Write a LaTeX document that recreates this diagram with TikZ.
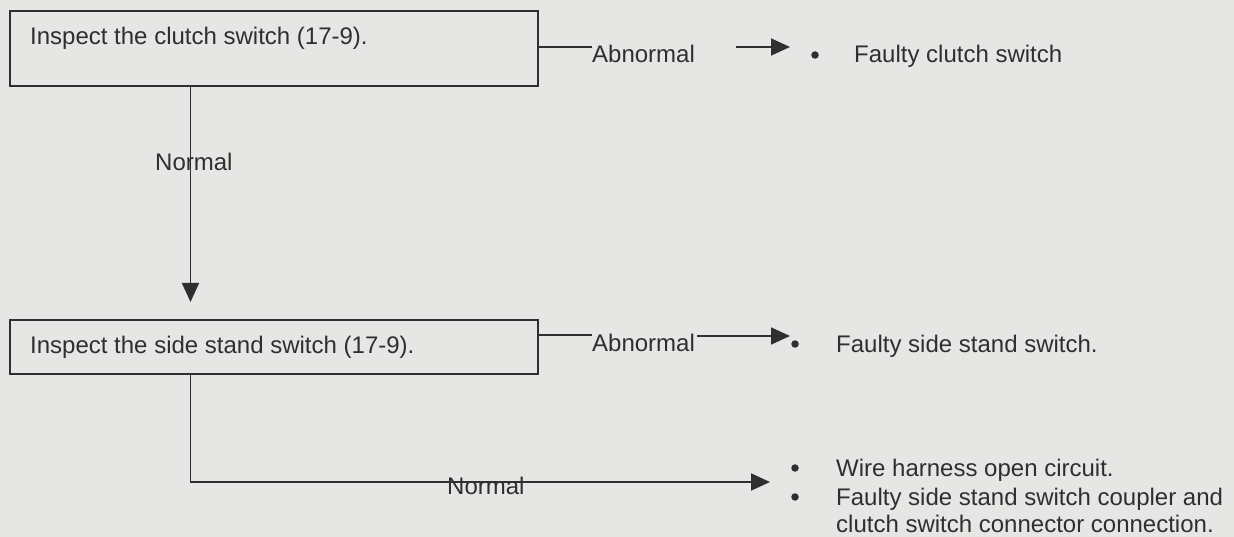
\documentclass[tikz,border=0pt]{standalone}
\usepackage{fontspec}
\setmainfont{Liberation Sans}
\usetikzlibrary{arrows.meta}
\definecolor{bg}{HTML}{E6E6E4}
\definecolor{ink}{HTML}{2F2F2F}
\begin{document}
\begin{tikzpicture}[x=1pt,y=-1pt,
  box/.style={draw=ink, line width=2pt, inner sep=0pt, rectangle},
  txt/.style={anchor=base west, inner sep=0pt, text=ink, font=\fontsize{24}{29}\selectfont},
  conn/.style={draw=ink, line width=1.8pt},
  arr/.style={conn, -{Triangle[length=19pt,width=17pt]}},
  bul/.style={circle, fill=ink, inner sep=0pt, minimum size=7.5pt}]
\fill[bg] (0,0) rectangle (1234,537);
\useasboundingbox (0,0) rectangle (1234,537);

% boxes
\node[box, minimum width=528pt, minimum height=75.5pt] (b1) at (273.5,48.75) {};
\node[box, minimum width=528pt, minimum height=54pt] (b2) at (273.5,347) {};
\node[txt] (t1) at (30,44.5) {Inspect the clutch switch (17-9).};
\node[txt] (t2) at (30,353) {Inspect the side stand switch (17-9).};

% labels
\node[txt] (ab1) at (592,63) {Abnormal};
\node[txt] (ab2) at (592,351) {Abnormal};
\node[txt] (n1) at (155,171) {Normal};
\node[txt] (n2) at (447,494.3) {Normal};

% results
\node[bul] (d1) at (815,55) {};
\node[txt] (r1) at (854,63) {Faulty clutch switch};
\node[bul] (d2) at (795,344) {};
\node[txt] (r2) at (836,352) {Faulty side stand switch.};
\node[bul] (d3) at (795,468) {};
\node[txt] (r3) at (836,476) {Wire harness open circuit.};
\node[bul] (d4) at (795,497) {};
\node[txt] (r4) at (836,505) {Faulty side stand switch coupler and};
\node[txt] (r5) at (836,532) {clutch switch connector connection.};

% connector end points
\coordinate (a1s) at (736,47);
\coordinate (a1e) at (790,47);
\coordinate (a2s) at (697,336);
\coordinate (a2e) at (790,336);
\coordinate (v1s) at (190.5,86.5);
\coordinate (v1e) at (190.5,302);
\coordinate (v2s) at (190.5,374);
\coordinate (v2c) at (190.5,482);
\coordinate (v2e) at (770,482);

% connectors
\draw[conn] (b1.east |- 0,47) -- (ab1.north west |- 0,47);
\draw[arr] (a1s) -- (a1e);
\draw[conn] (b2.east |- 0,335) -- (ab2.north west |- 0,335);
\draw[arr] (a2s) -- (a2e);
\draw[arr] (v1s) -- (v1e);
\draw[arr] (v2s) -- (v2c) -- (v2e);
\end{tikzpicture}
\end{document}
